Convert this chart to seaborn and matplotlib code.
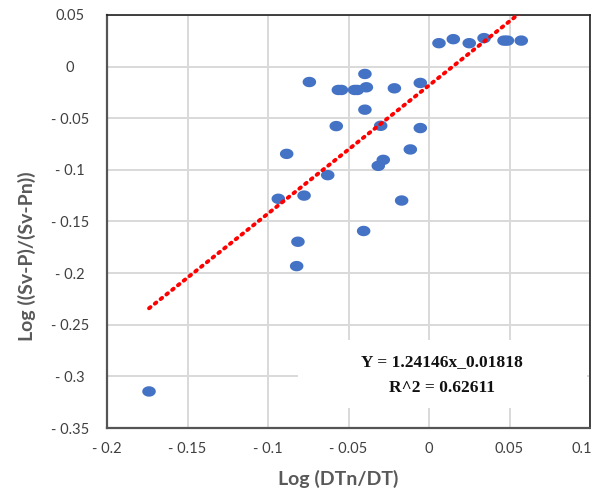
import numpy as np
import pandas as pd
import matplotlib
matplotlib.use("Agg")
import matplotlib.pyplot as plt
import matplotlib.transforms as mtransforms
from matplotlib.path import Path
from matplotlib.patches import Rectangle
import seaborn as sns

# ---- data ----
x_vals = [0.0062, 0.0151, 0.0250, 0.0342, 0.0466, 0.0487, 0.0573,
          -0.0398, -0.0743, -0.0563, -0.0544, -0.0462, -0.0445, -0.0389,
          -0.0215, -0.0054, -0.0398, -0.0576, -0.0300, -0.0054, -0.0116,
          -0.0284, -0.0315, -0.0629, -0.0776, -0.0170, -0.0406, -0.0814,
          -0.0884, -0.0936, -0.0822, -0.1739]
y_vals = [0.0227, 0.0266, 0.0227, 0.0276, 0.0252, 0.0252, 0.0252,
          -0.0071, -0.0149, -0.0226, -0.0226, -0.0226, -0.0226, -0.0200,
          -0.0210, -0.0158, -0.0417, -0.0576, -0.0573, -0.0595, -0.0802,
          -0.0903, -0.0961, -0.1051, -0.1249, -0.1297, -0.1592, -0.1696,
          -0.0845, -0.1280, -0.1932, -0.3146]
slope = 1.24146
intercept = -0.01818
eq_text = "Y = 1.24146x_0.01818"
r2_text = "R^2 = 0.62611"
x_ticks = [-0.2, -0.15, -0.1, -0.05, 0, 0.05, 0.1]
x_tick_labels = ["- 0.2", "- 0.15", "- 0.1", "- 0.05", "0", "0.05", "0.1"]
y_ticks = [0.05, 0, -0.05, -0.1, -0.15, -0.2, -0.25, -0.3, -0.35]
y_tick_labels = ["0.05", "0", "- 0.05", "- 0.1", "- 0.15", "- 0.2", "- 0.25", "- 0.3", "- 0.35"]
x_label = "Log (DTn/DT)"
y_label = "Log ((Sv-P)/(Sv-Pn))"

df = pd.DataFrame({"x": x_vals, "y": y_vals})

sns.set_style("white")
plt.rcParams["font.family"] = ["Lato", "DejaVu Sans"]

fig = plt.figure(figsize=(5.91, 4.91), dpi=100)
ax = fig.add_axes([107/591, 63/491, 483/591, 413/491])

# ellipse marker
t = np.linspace(0, 2*np.pi, 60)
ell = Path(np.column_stack([1.3*np.cos(t), np.sin(t)]), closed=True)

ax.grid(True, color="#d9d9d9", linewidth=1.4, zorder=0)
ax.set_axisbelow(True)

# white box behind regression text
ax.add_patch(Rectangle((0.395, 0.048), 0.598, 0.165, transform=ax.transAxes,
                       facecolor="white", edgecolor="none", zorder=1))

sns.scatterplot(data=df, x="x", y="y", ax=ax, marker=ell, s=95,
                color="#4472C4", edgecolor="none", linewidth=0, zorder=3)

lx = np.array([min(x_vals), max(x_vals)])
ax.plot(lx, slope*lx + intercept, color="#ff0000", linestyle=(0, (0.5, 1.4)),
        linewidth=2.8, dash_capstyle="round", zorder=4)

ax.set_xlim(-0.2, 0.1)
ax.set_ylim(-0.35, 0.05)
ax.set_xticks(x_ticks)
ax.set_xticklabels(x_tick_labels)
ax.set_yticks(y_ticks)
ax.set_yticklabels(y_tick_labels)
ax.tick_params(axis="both", length=0, labelsize=10.5, labelcolor="#404040")
ax.tick_params(axis="y", pad=37*0.72)
ax.tick_params(axis="x", pad=10)
for lab in ax.get_yticklabels():
    lab.set_horizontalalignment("center")
# nudge the last x tick label left, as in the reference
last = ax.get_xticklabels()[-1]
last.set_transform(last.get_transform() + mtransforms.ScaledTranslation(-6/72, 0, fig.dpi_scale_trans))

ax.set_xlabel(x_label, fontsize=14, fontweight="bold", color="#595959", va="center", ha="center")
ax.set_ylabel(y_label, fontsize=14, fontweight="bold", color="#595959", va="center", ha="center")
ax.xaxis.set_label_coords((338-107)/483, -(479-428)/413)
ax.yaxis.set_label_coords(-(107-27)/483, (428-256)/413)

for side in ["top", "right"]:
    ax.spines[side].set_color("#222222")
    ax.spines[side].set_linewidth(1.2)
for side in ["left", "bottom"]:
    ax.spines[side].set_color("#555555")
    ax.spines[side].set_linewidth(1.6)

ax.text(0.6936, 0.1605, eq_text, transform=ax.transAxes, ha="center", va="center",
        fontsize=12.5, fontweight="bold", family=["Liberation Serif"], color="#111111", zorder=5)
ax.text(0.6936, 0.096, r2_text, transform=ax.transAxes, ha="center", va="center",
        fontsize=12.5, fontweight="bold", family=["Liberation Serif"], color="#111111", zorder=5)

fig.savefig("out.png", dpi=100)
